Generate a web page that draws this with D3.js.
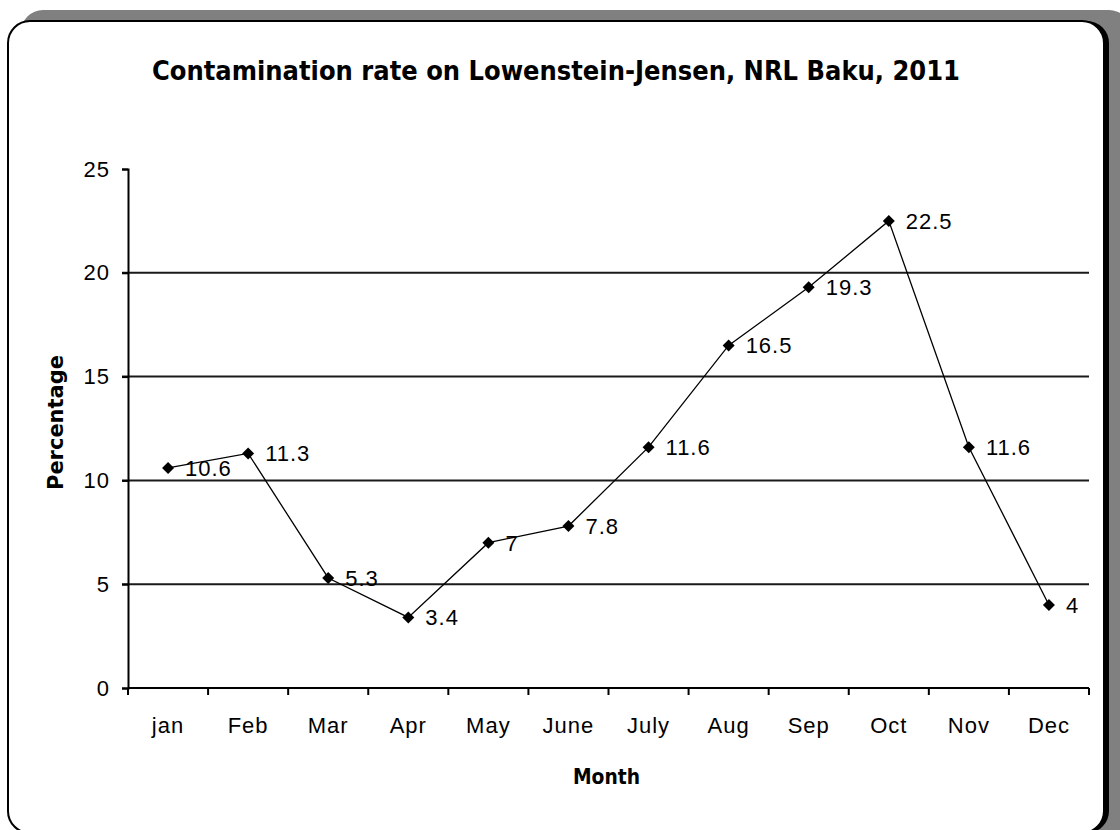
<!DOCTYPE html>
<html>
<head>
<meta charset="utf-8">
<script src="https://cdn.jsdelivr.net/npm/d3@7/dist/d3.min.js"></script>
<style>
  html, body { margin: 0; padding: 0; background: #fff; }
  svg { display: block; }
  .tick-label { font-family: "Liberation Sans", Arial, sans-serif; font-size: 22px; letter-spacing: 1px; fill: #000; }
  .data-label { font-family: "Liberation Sans", Arial, sans-serif; font-size: 22px; letter-spacing: 1px; fill: #000; }
  .bold-title { font-family: "DejaVu Sans", sans-serif; font-weight: bold; fill: #000; }
</style>
</head>
<body>
<svg id="chart" width="1120" height="830"></svg>
<script>
// Monthly contamination rate (%) on Lowenstein-Jensen medium, NRL Baku, 2011
const months = ["jan", "Feb", "Mar", "Apr", "May", "June", "July", "Aug", "Sep", "Oct", "Nov", "Dec"];
const rates = [10.6, 11.3, 5.3, 3.4, 7, 7.8, 11.6, 16.5, 19.3, 22.5, 11.6, 4];
const yTicks = [0, 5, 10, 15, 20, 25];
const gridValues = [5, 10, 15, 20];

const titleText = "Contamination rate on Lowenstein-Jensen, NRL Baku, 2011";
const yTitle = "Percentage";
const xTitle = "Month";

const svg = d3.select("#chart");

// Chart frame: grey drop shadow, dark edge, white rounded panel
svg.append("rect")
  .attr("x", 21).attr("y", 10).attr("width", 1110).attr("height", 840)
  .attr("rx", 22).attr("fill", "#808080");
svg.append("rect")
  .attr("x", 12).attr("y", 21).attr("width", 1097).attr("height", 812)
  .attr("rx", 22).attr("fill", "#000");
svg.append("rect")
  .attr("x", 8).attr("y", 21).attr("width", 1096).attr("height", 812)
  .attr("rx", 22).attr("fill", "#fff").attr("stroke", "#000").attr("stroke-width", 2);

// Scales
const plot = { left: 128, right: 1089, top: 169, bottom: 688 };
const x = d3.scaleBand().domain(months).range([plot.left, plot.right]);
const y = d3.scaleLinear().domain([0, 25]).range([plot.bottom, plot.top]);
const cx = m => x(m) + x.bandwidth() / 2;

// Horizontal gridlines
svg.append("g").selectAll("line").data(gridValues).join("line")
  .attr("x1", plot.left - 6).attr("x2", plot.right)
  .attr("y1", d => y(d)).attr("y2", d => y(d))
  .attr("stroke", "#1a1a1a").attr("stroke-width", 2);

// Y axis
const yAxis = svg.append("g")
  .attr("transform", `translate(${plot.left},0)`)
  .call(d3.axisLeft(y).tickValues(yTicks).tickSize(6).tickPadding(12).tickFormat(d3.format("d")));
yAxis.select(".domain").attr("stroke", "#000").attr("stroke-width", 2);
yAxis.selectAll(".tick line").attr("stroke", "#000").attr("stroke-width", 2);
yAxis.selectAll(".tick text").attr("class", "tick-label").attr("font-size", null).attr("font-family", null);

// X axis: ticks on category boundaries, labels centred in each category
const xAxisG = svg.append("g").attr("transform", `translate(0,${plot.bottom})`);
xAxisG.append("line")
  .attr("x1", plot.left).attr("x2", plot.right)
  .attr("stroke", "#000").attr("stroke-width", 2);
const boundaries = months.map(m => x(m)).concat([plot.right]);
xAxisG.selectAll("line.xtick").data(boundaries).join("line")
  .attr("class", "xtick")
  .attr("x1", d => d).attr("x2", d => d)
  .attr("y1", 0).attr("y2", 7)
  .attr("stroke", "#000").attr("stroke-width", 2);
xAxisG.selectAll("text").data(months).join("text")
  .attr("class", "tick-label")
  .attr("x", d => cx(d)).attr("y", 45)
  .attr("text-anchor", "middle")
  .text(d => d);

// Series line
const data = months.map((m, i) => ({ month: m, value: rates[i] }));
svg.append("path")
  .datum(data)
  .attr("fill", "none").attr("stroke", "#000").attr("stroke-width", 1.3)
  .attr("d", d3.line().x(d => cx(d.month)).y(d => y(d.value)));

// Diamond markers
const diamond = {
  draw(ctx, size) {
    const r = Math.sqrt(size) / 2;
    ctx.moveTo(0, -r); ctx.lineTo(r, 0); ctx.lineTo(0, r); ctx.lineTo(-r, 0); ctx.closePath();
  }
};
svg.append("g").selectAll("path").data(data).join("path")
  .attr("transform", d => `translate(${cx(d.month)},${y(d.value)})`)
  .attr("d", d3.symbol().type(diamond).size(144))
  .attr("fill", "#000");

// Value labels
svg.append("g").selectAll("text").data(data).join("text")
  .attr("class", "data-label")
  .attr("x", d => cx(d.month) + 17)
  .attr("y", d => y(d.value) + 8)
  .text(d => d.value);

// Titles
svg.append("text")
  .attr("class", "bold-title")
  .attr("x", 152).attr("y", 80)
  .attr("font-size", 27)
  .attr("textLength", 808).attr("lengthAdjust", "spacingAndGlyphs")
  .text(titleText);

svg.append("text")
  .attr("class", "bold-title")
  .attr("transform", "translate(63,490) rotate(-90)")
  .attr("font-size", 21)
  .attr("textLength", 135).attr("lengthAdjust", "spacingAndGlyphs")
  .text(yTitle);

svg.append("text")
  .attr("class", "bold-title")
  .attr("x", 573).attr("y", 784)
  .attr("font-size", 21)
  .attr("textLength", 67).attr("lengthAdjust", "spacingAndGlyphs")
  .text(xTitle);
</script>
</body>
</html>
